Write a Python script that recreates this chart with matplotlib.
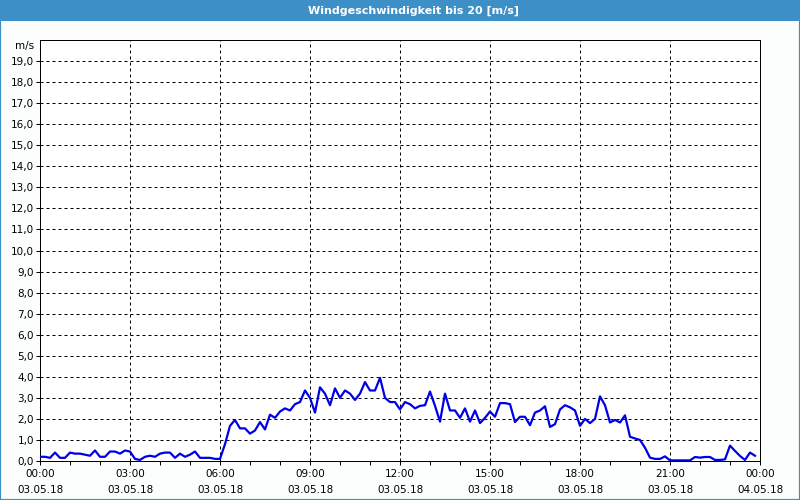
import numpy as np
import matplotlib
matplotlib.use("Agg")
import matplotlib.pyplot as plt
from matplotlib.patches import Rectangle

# wind speed in m/s, one value every 10 minutes from 03.05.18 00:00
speed = [
    0.2, 0.2, 0.15, 0.4, 0.15, 0.15, 0.4, 0.35, 0.35, 0.3,
    0.25, 0.5, 0.2, 0.2, 0.45, 0.45, 0.35, 0.5, 0.45, 0.1,
    0.05, 0.2, 0.25, 0.2, 0.35, 0.4, 0.4, 0.15, 0.35, 0.2,
    0.3, 0.45, 0.15, 0.15, 0.15, 0.1, 0.1, 0.8, 1.67, 1.95,
    1.55, 1.55, 1.3, 1.45, 1.85, 1.5, 2.2, 2.05, 2.35, 2.5,
    2.4, 2.7, 2.8, 3.35, 3.0, 2.3, 3.5, 3.2, 2.65, 3.45,
    3.0, 3.35, 3.2, 2.9, 3.2, 3.75, 3.35, 3.35, 3.95, 3.0,
    2.8, 2.8, 2.45, 2.8, 2.7, 2.5, 2.62, 2.65, 3.3, 2.62,
    1.87, 3.2, 2.4, 2.4, 2.05, 2.5, 1.87, 2.4, 1.8, 2.05,
    2.35, 2.1, 2.75, 2.75, 2.7, 1.85, 2.1, 2.1, 1.7, 2.3,
    2.4, 2.6, 1.62, 1.75, 2.45, 2.65, 2.55, 2.4, 1.67, 2.0,
    1.8, 2.0, 3.07, 2.65, 1.83, 1.95, 1.83, 2.17, 1.15, 1.07,
    1.0, 0.63, 0.16, 0.1, 0.1, 0.22, 0.03, 0.03, 0.03, 0.03,
    0.03, 0.19, 0.16, 0.19, 0.19, 0.05, 0.05, 0.08, 0.73, 0.48,
    0.24, 0.05, 0.4, 0.25,
]
hours = np.arange(len(speed)) / 6.0

x_ticks = [0, 3, 6, 9, 12, 15, 18, 21, 24]
x_labels = ["00:00\n03.05.18", "03:00\n03.05.18", "06:00\n03.05.18",
            "09:00\n03.05.18", "12:00\n03.05.18", "15:00\n03.05.18",
            "18:00\n03.05.18", "21:00\n03.05.18", "00:00\n04.05.18"]
y_ticks = list(range(20))
y_labels = [f"{v},0" for v in y_ticks]

title = "Windgeschwindigkeit bis 20 [m/s]"
BLUE_BAR = "#3d8fc8"
PX = 0.72  # one pixel in points at 100 dpi

fig = plt.figure(figsize=(8, 5), dpi=100)
fig.patch.set_facecolor("#fcfefd")

# title bar and window border (border drawn 2px wide on the edge so 1px stays inside)
fig.patches.append(Rectangle((0, 1 - 21 / 500), 1, 21 / 500, transform=fig.transFigure,
                             facecolor=BLUE_BAR, edgecolor="none", zorder=0))
fig.patches.append(Rectangle((0, 0), 1, 1, transform=fig.transFigure,
                             facecolor="none", edgecolor=BLUE_BAR, linewidth=2.2 * PX, zorder=1))
fig.text(413 / 800, 1 - 10.5 / 500, title, color="white", fontsize=8, fontweight="bold",
         ha="center", va="center")

ax = fig.add_axes([40 / 800, 39 / 500, 720 / 800, 421 / 500])
ax.set_facecolor("white")
ax.plot(hours, speed, color="#0000e6", linewidth=1.6, zorder=3)

ax.set_xlim(0, 24)
ax.set_ylim(0, 20)
ax.set_xticks(x_ticks)
ax.set_xticklabels(x_labels, fontsize=7.5, linespacing=1.75)
ax.set_xticks(np.arange(0, 25, 1), minor=True)
ax.set_yticks(y_ticks)
ax.set_yticklabels(y_labels, fontsize=7.5)
ax.tick_params(axis="x", which="both", direction="out", length=4 * PX, width=PX, pad=3)
ax.tick_params(axis="y", direction="out", length=4 * PX, width=PX, pad=1.5)

for s in ax.spines.values():
    s.set_linewidth(PX)
    s.set_color("black")

for v in range(1, 20):
    ax.axhline(v, color="black", linewidth=PX, linestyle=(0, (3, 3)), zorder=1)
for v in range(3, 24, 3):
    ax.axvline(v, color="black", linewidth=PX, linestyle=(0, (3, 3)), zorder=1)

ax.text(-0.2, 19.72, "m/s", fontsize=7.5, ha="right", va="center")

fig.savefig("out.png", dpi=100, facecolor=fig.get_facecolor())
